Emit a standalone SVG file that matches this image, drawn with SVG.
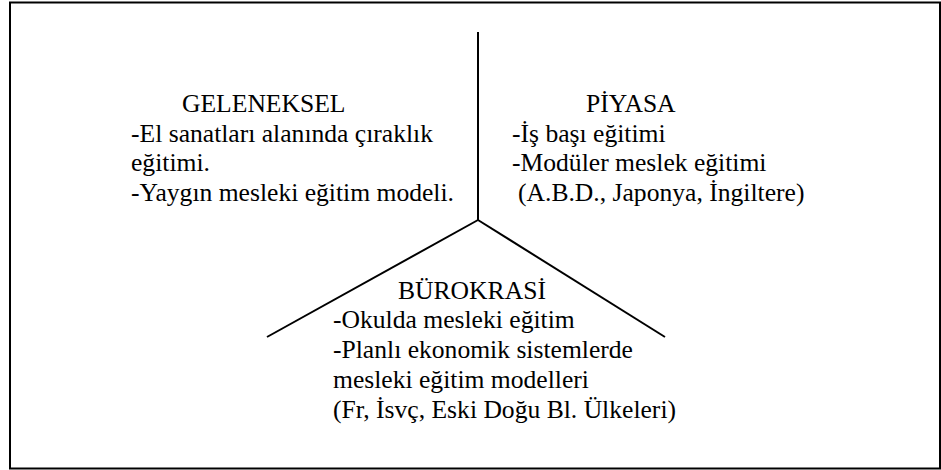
<svg xmlns="http://www.w3.org/2000/svg" width="941" height="470" viewBox="0 0 941 470">
<style>
text{font-family:"Liberation Serif","Times New Roman",serif;font-size:25.6px;fill:#000}
.ln{stroke:#000;stroke-width:2;fill:none}
</style>
<rect x="0" y="0" width="941" height="470" fill="#fff"/>
<rect id="frame" x="10" y="2.5" width="930" height="466" class="ln"/>
<g id="connectors">
<line class="ln" x1="478" y1="32" x2="478" y2="220"/>
<line class="ln" x1="478" y1="220" x2="267" y2="337"/>
<line class="ln" x1="478" y1="220" x2="665" y2="337"/>
</g>
<g id="geleneksel">
<text x="182" y="112">GELENEKSEL</text>
<text x="131" y="142">-El sanatları alanında çıraklık</text>
<text x="131" y="171">eğitimi.</text>
<text x="131" y="201">-Yaygın mesleki eğitim modeli.</text>
</g>
<g id="piyasa">
<text x="586" y="112">PİYASA</text>
<text x="512" y="142">-İş başı eğitimi</text>
<text x="512" y="171">-Modüler meslek eğitimi</text>
<text x="518" y="201">(A.B.D., Japonya, İngiltere)</text>
</g>
<g id="burokrasi">
<text x="398" y="299">BÜROKRASİ</text>
<text x="333" y="328">-Okulda mesleki eğitim</text>
<text x="333" y="358">-Planlı ekonomik sistemlerde</text>
<text x="333" y="388">mesleki eğitim modelleri</text>
<text x="333" y="418">(Fr, İsvç, Eski Doğu Bl. Ülkeleri)</text>
</g>
</svg>
